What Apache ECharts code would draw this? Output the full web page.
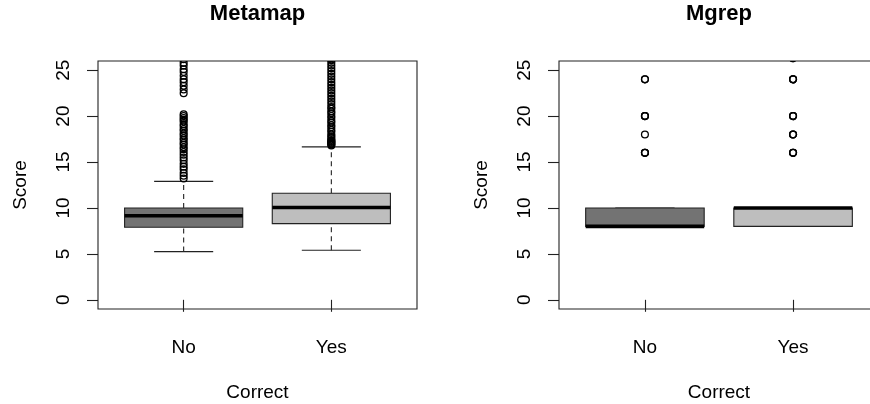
<!DOCTYPE html>
<html>
<head>
<meta charset="utf-8">
<script src="https://cdn.jsdelivr.net/npm/echarts@6/dist/echarts.min.js"></script>
<style>html,body{margin:0;padding:0;background:#fff;}#c{width:870px;height:404px;}</style>
</head>
<body>
<div id="c"></div>
<script>
// ---- data ----
const categories = ['No', 'Yes'];
const panelTitles = ['Metamap', 'Mgrep'];
const yTicks = [0, 5, 10, 15, 20, 25];
// box stats: [min whisker, Q1, median, Q3, max whisker]
const metamapNoBox  = [5.25, 7.9, 9.15, 10.0, 12.9];
const metamapYesBox = [5.4, 8.3, 10.05, 11.6, 16.65];
const mgrepNoBox    = [8, 8, 8, 10, 10];
const mgrepYesBox   = [8, 8, 10, 10, 10];
// outliers
const metamapNoOut = [13.2, 13.5, 13.8, 14.2, 14.5, 14.8, 15.2, 15.5, 15.8, 16.1, 16.4, 16.6, 16.9, 17.1, 17.4, 17.6, 17.9, 18.1, 18.4, 18.6, 18.9, 19.1, 19.4, 19.6, 19.8, 20.0, 20.2,
                      22.5, 22.9, 23.3, 23.7, 24.0, 24.4, 24.8, 25.1, 25.5, 25.8, 26.2];
const metamapYesOut = [16.8, 16.9, 17.0, 17.1, 17.2, 17.3, 17.4, 17.6, 17.8, 18.0, 18.3, 18.5, 18.8, 19.0, 19.3, 19.5, 19.8, 20.0, 20.3, 20.5, 20.8, 21.0, 21.3, 21.6, 21.9, 22.2, 22.5, 22.8,
                       23.1, 23.4, 23.7, 24.0, 24.3, 24.6, 24.9, 25.2, 25.5, 25.8, 26.1, 26.3];
const mgrepNoOut  = [16, 16, 16, 18, 20, 20, 20, 24, 24];
const mgrepYesOut = [16, 16, 16, 18, 18, 18, 20, 20, 20, 24, 24, 24, 26.3, 26.3];

// ---- chart ----
const boxFill = ['#737373', '#bebebe'];
const FONT = 'Liberation Sans, Arial, Helvetica, sans-serif';
const grids = [
  { left: 98, top: 61, width: 319, height: 248 },
  { left: 559, top: 61, width: 320, height: 248 }
];
const panels = [
  { boxes: [metamapNoBox, metamapYesBox], outs: [metamapNoOut, metamapYesOut] },
  { boxes: [mgrepNoBox, mgrepYesBox], outs: [mgrepNoOut, mgrepYesOut] }
];

function renderBox(params, api) {
  const x = api.value(0);
  const v = [1, 2, 3, 4, 5].map(i => api.value(i));
  const p = v.map(val => api.coord([x, val]));
  const cx = p[0][0];
  const bw = api.size([0.8, 0])[0];
  const h = bw / 2, s = bw / 4;
  const thin = { stroke: '#222', lineWidth: 1.1 };
  return {
    type: 'group',
    children: [
      { type: 'line', shape: { x1: cx, y1: p[3][1], x2: cx, y2: p[4][1] }, style: Object.assign({ lineDash: [5, 4] }, thin) },
      { type: 'line', shape: { x1: cx, y1: p[0][1], x2: cx, y2: p[1][1] }, style: Object.assign({ lineDash: [5, 4] }, thin) },
      { type: 'line', shape: { x1: cx - s, y1: p[4][1], x2: cx + s, y2: p[4][1] }, style: thin },
      { type: 'line', shape: { x1: cx - s, y1: p[0][1], x2: cx + s, y2: p[0][1] }, style: thin },
      { type: 'rect', shape: { x: cx - h, y: p[3][1], width: bw, height: p[1][1] - p[3][1] },
        style: { fill: boxFill[params.dataIndex], stroke: '#222', lineWidth: 1.1 } },
      { type: 'line', shape: { x1: cx - h, y1: p[2][1], x2: cx + h, y2: p[2][1] }, style: { stroke: '#000', lineWidth: 3.6 } }
    ]
  };
}

function renderOut(params, api) {
  const pt = api.coord([api.value(0), api.value(1)]);
  return {
    type: 'circle',
    shape: { cx: pt[0], cy: pt[1], r: 3.4 },
    style: { fill: 'none', stroke: '#000', lineWidth: 1.3 }
  };
}

const option = {
  backgroundColor: '#fff',
  animation: false,
  title: panelTitles.map((t, i) => ({
    text: t,
    left: grids[i].left + grids[i].width / 2,
    top: 3,
    textAlign: 'center',
    padding: 0,
    textStyle: { fontFamily: FONT, fontSize: 22, fontWeight: 'bold', color: '#000' }
  })),
  grid: grids.map(g => Object.assign({ show: true, borderColor: '#222', borderWidth: 1.1, backgroundColor: 'transparent',
                                       containLabel: false, outerBoundsMode: 'none' }, g)),
  xAxis: grids.map((g, i) => ({
    gridIndex: i,
    type: 'value',
    min: 0.42,
    max: 2.58,
    axisLine: { show: false },
    splitLine: { show: false },
    axisTick: { show: true, customValues: [1, 2], length: 12, lineStyle: { color: '#222', width: 1.1 } },
    axisLabel: { show: true, customValues: [1, 2], margin: 29, formatter: v => categories[Math.round(v) - 1],
                 fontFamily: FONT, fontSize: 19, color: '#000' },
    name: 'Correct',
    nameLocation: 'middle',
    nameGap: 74,
    nameTextStyle: { fontFamily: FONT, fontSize: 19, color: '#000' }
  })),
  yAxis: grids.map((g, i) => ({
    gridIndex: i,
    type: 'value',
    min: -1,
    max: 26,
    axisLine: { show: false },
    splitLine: { show: false },
    axisTick: { show: true, customValues: yTicks, length: 11, lineStyle: { color: '#222', width: 1.1 } },
    axisLabel: { show: true, customValues: yTicks, rotate: 90, margin: 25, fontFamily: FONT, fontSize: 19, color: '#000' },
    name: 'Score',
    nameLocation: 'middle',
    nameRotate: 90,
    nameGap: 68,
    nameTextStyle: { fontFamily: FONT, fontSize: 19, color: '#000' }
  })),
  series: []
};

panels.forEach((pn, i) => {
  option.series.push({
    type: 'custom',
    xAxisIndex: i, yAxisIndex: i,
    renderItem: renderBox,
    encode: { x: 0, y: [1, 2, 3, 4, 5] },
    data: pn.boxes.map((b, k) => [k + 1].concat(b)),
    clip: true,
    z: 2
  });
  pn.outs.forEach((arr, k) => {
    option.series.push({
      type: 'custom',
      xAxisIndex: i, yAxisIndex: i,
      renderItem: renderOut,
      encode: { x: 0, y: 1 },
      clip: true,
      data: arr.map(v => [k + 1, v]),
      z: 3
    });
  });
});

const chart = echarts.init(document.getElementById('c'), null, { renderer: 'canvas' });
chart.setOption(option);
</script>
</body>
</html>
